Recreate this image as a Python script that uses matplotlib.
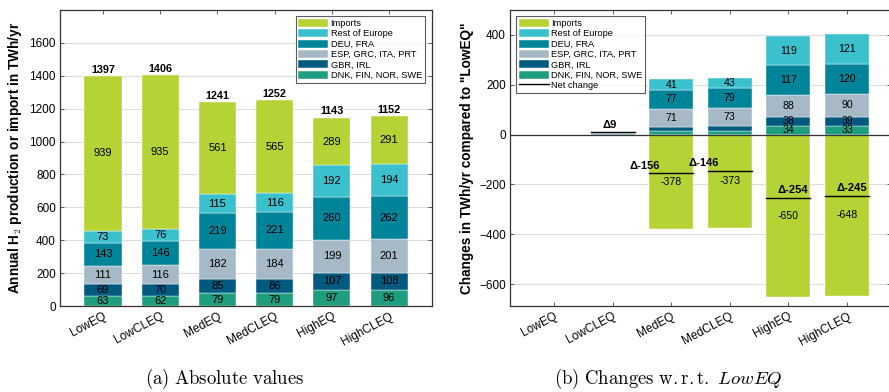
import numpy as np
import matplotlib.pyplot as plt

plt.rcParams['font.family'] = ['Liberation Sans', 'DejaVu Sans']
plt.rcParams['mathtext.fontset'] = 'cm'

scenarios = ["LowEQ", "LowCLEQ", "MedEQ", "MedCLEQ", "HighEQ", "HighCLEQ"]
groups = ["DNK, FIN, NOR, SWE", "GBR, IRL", "ESP, GRC, ITA, PRT", "DEU, FRA",
          "Rest of Europe", "Imports"]
colors = ["#1f9e7f", "#005a80", "#a6b9c6", "#00849a", "#3bc0cd", "#b5d334"]

# absolute values (TWh/yr), bottom to top
nordic = [63, 62, 79, 79, 97, 96]
gbr_irl = [69, 70, 85, 86, 107, 108]
south = [111, 116, 182, 184, 199, 201]
deu_fra = [143, 146, 219, 221, 260, 262]
rest_eu = [73, 76, 115, 116, 192, 194]
imports = [939, 935, 561, 565, 289, 291]
totals = [1397, 1406, 1241, 1252, 1143, 1152]

# changes compared to LowEQ
d_nordic = [0, -1, 16, 16, 34, 33]
d_gbr_irl = [0, 1, 16, 17, 38, 39]
d_south = [0, 5, 71, 73, 88, 90]
d_deu_fra = [0, 3, 77, 79, 117, 120]
d_rest_eu = [0, 3, 41, 43, 119, 121]
d_imports = [0, -4, -378, -373, -650, -648]
net_change = [0, 9, -156, -146, -254, -245]

fig = plt.figure(figsize=(8.89, 3.92), dpi=100)
ax1 = fig.add_axes([0.0675, 0.219, 0.4185, 0.756])
ax2 = fig.add_axes([0.5737, 0.219, 0.4285, 0.756])

x = np.arange(len(scenarios))


def style_axes(ax):
    ax.set_axisbelow(True)
    ax.yaxis.grid(True, color='#dcdcdc', lw=0.8)
    ax.tick_params(direction='in', top=True, right=True, labelsize=8.5,
                   length=3, width=0.6, color='#444444', pad=3)
    for s in ax.spines.values():
        s.set_linewidth(0.9)
        s.set_color('#333333')
    ax.set_xticks(x)
    ax.set_xticklabels(scenarios, rotation=28, ha='right', rotation_mode='anchor',
                       fontsize=8.6)
    ax.set_xlim(-0.75, 5.75)


def make_legend(ax, handles, labels, loc, anchor):
    leg = ax.legend(handles, labels, loc=loc, fontsize=6.7, fancybox=False,
                    edgecolor='#333333', handlelength=3.2, handleheight=0.95,
                    handletextpad=0.25, labelspacing=0.12, borderpad=0.3,
                    borderaxespad=0.2, bbox_to_anchor=anchor)
    leg.get_frame().set_linewidth(0.8)
    return leg


# (a) absolute values
abs_series = [nordic, gbr_irl, south, deu_fra, rest_eu, imports]
bars1 = []
bottom = np.zeros(len(scenarios))
for vals, col, name in zip(abs_series, colors, groups):
    vals = np.array(vals, dtype=float)
    b = ax1.bar(x, vals, 0.65, bottom=bottom, color=col, label=name,
                edgecolor='white', linewidth=0.3)
    bars1.append(b)
    for xi, b0, v in zip(x, bottom, vals):
        ax1.text(xi, b0 + v / 2, f"{v:.0f}", ha='center', va='center',
                 fontsize=8)
    bottom += vals
for xi, b0, t in zip(x, bottom, totals):
    ax1.text(xi, b0 + 8, str(t), ha='center', va='bottom', fontsize=7.8,
             fontweight='bold')

style_axes(ax1)
ax1.set_ylim(0, 1800)
ax1.set_yticks(range(0, 1601, 200))
ax1.set_ylabel("Annual H$_\\mathbf{2}$ production or import in TWh/yr",
               fontsize=9.8, fontweight='bold', labelpad=4)
make_legend(ax1, bars1[::-1], groups[::-1], 'upper right', (0.985, 0.985))

# (b) changes w.r.t. LowEQ
diff_series = [d_nordic, d_gbr_irl, d_south, d_deu_fra, d_rest_eu, d_imports]
bars2 = []
pos_bottom = np.zeros(len(scenarios))
neg_bottom = np.zeros(len(scenarios))
for vals, col, name in zip(diff_series, colors, groups):
    vals = np.array(vals, dtype=float)
    base = np.where(vals >= 0, pos_bottom, neg_bottom)
    b = ax2.bar(x, vals, 0.75, bottom=base, color=col, label=name,
                edgecolor='white', linewidth=0.3)
    bars2.append(b)
    for xi, b0, v in zip(x, base, vals):
        if abs(v) >= 30:
            ax2.text(xi, b0 + v / 2, f"{v:.0f}", ha='center', va='center',
                     fontsize=7.6)
    pos_bottom += np.where(vals >= 0, vals, 0)
    neg_bottom += np.where(vals < 0, vals, 0)

# net change markers
delta_dx = [0, -0.05, -0.45, -0.45, 0.07, 0.08]
for xi, n, dx in zip(x[1:], net_change[1:], delta_dx[1:]):
    ax2.plot([xi - 0.375, xi + 0.375], [n, n], color='black', lw=1.0)
    ax2.text(xi + dx, n + 10, f"Δ{n}", ha='center', va='bottom', fontsize=8,
             fontweight='bold')
net_line, = ax2.plot([], [], color='black', lw=1.0)
ax2.axhline(0, color='#333333', lw=0.9, zorder=3)

style_axes(ax2)
ax2.set_ylim(-688, 500)
ax2.set_yticks(range(-600, 401, 200))
ax2.set_ylabel('Changes in TWh/yr compared to "LowEQ"', fontsize=9.8,
               fontweight='bold', labelpad=4)
make_legend(ax2, bars2[::-1] + [net_line], groups[::-1] + ["Net change"],
            'upper left', (0.012, 0.985))

fig.text(0.253, 0.02, r"$\mathrm{(a)\ Absolute\ values}$", ha='center',
         fontsize=13.5)
fig.text(0.752, 0.02, r"$\mathrm{(b)\ Changes\ w.r.t.}\ \mathit{LowEQ}$",
         ha='center', fontsize=13.5)

fig.savefig("out.png", dpi=100)
